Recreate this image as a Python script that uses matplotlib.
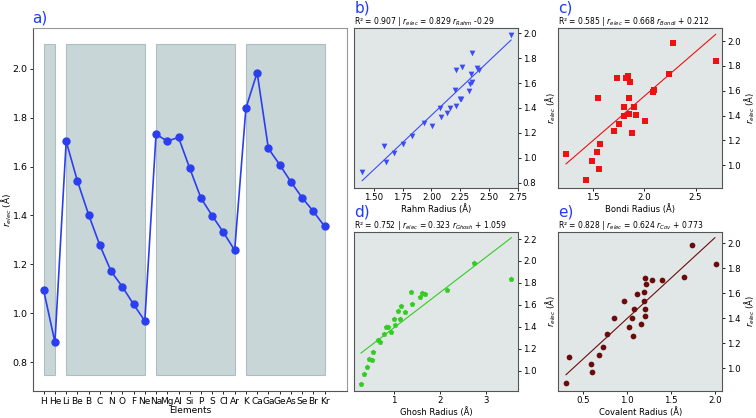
import numpy as np
import matplotlib
matplotlib.use("Agg")
import matplotlib.pyplot as plt
from matplotlib.patches import Rectangle

# elements and electronic radii (panel a)
elements = ["H", "He", "Li", "Be", "B", "C", "N", "O", "F", "Ne",
            "Na", "Mg", "Al", "Si", "P", "S", "Cl", "Ar",
            "K", "Ca", "Ga", "Ge", "As", "Se", "Br", "Kr"]
r_elec = [1.094, 0.882, 1.703, 1.541, 1.403, 1.278, 1.172, 1.109, 1.037, 0.969,
          1.732, 1.704, 1.719, 1.593, 1.471, 1.399, 1.331, 1.258,
          1.838, 1.984, 1.674, 1.608, 1.538, 1.473, 1.417, 1.356]
# shaded periods (first, last element index)
periods = [(0, 1), (2, 9), (10, 17), (18, 25)]

# other radii, same element order as above
rahm = [1.589, 1.400, 2.217, 2.206, 2.073, 1.932, 1.828, 1.750, 1.676, 1.607,
        2.263, 2.410, 2.399, 2.332, 2.246, 2.162, 2.085, 2.001,
        2.350, 2.692, 2.341, 2.350, 2.324, 2.260, 2.209, 2.139]
bondi = [1.233, 1.425, 1.731, 1.542, 1.914, 1.702, 1.562, 1.536, 1.487, 1.552,
         2.243, 1.819, 1.836, 2.086, 1.800, 1.800, 1.754, 1.875,
         2.699, 2.282, 1.862, 2.090, 1.845, 1.894, 1.845, 2.005]
ghosh = [0.531, 0.292, 1.679, 1.094, 0.827, 0.653, 0.545, 0.473, 0.415, 0.365,
         2.162, 1.621, 1.368, 1.152, 1.000, 0.884, 0.791, 0.711,
         3.556, 2.747, 1.570, 1.390, 1.253, 1.130, 1.036, 0.949]
covalent = [0.333, 0.303, 1.401, 0.963, 0.849, 0.770, 0.724, 0.675, 0.587, 0.595,
            1.645, 1.279, 1.206, 1.111, 1.073, 1.054, 1.020, 1.062,
            2.008, 1.742, 1.218, 1.196, 1.188, 1.199, 1.199, 1.161]

# fitted lines as drawn (end points)
rahm_fit_x, rahm_fit_y = [1.40, 2.69], [0.816, 1.946]
bondi_fit_x, bondi_fit_y = [1.233, 2.695], [1.011, 2.054]
ghosh_fit_x, ghosh_fit_y = [0.292, 3.556], [1.161, 2.212]
cov_fit_x, cov_fit_y = [0.303, 2.0], [0.949, 2.045]

titles = ["R² = 0.907 | $r_{elec}$ = 0.829 $r_{Rahm}$ -0.29",
          "R² = 0.585 | $r_{elec}$ = 0.668 $r_{Bondi}$ + 0.212",
          "R² = 0.752 | $r_{elec}$ = 0.323 $r_{Ghosh}$ + 1.059",
          "R² = 0.828 | $r_{elec}$ = 0.624 $r_{Cov}$ + 0.773"]

fig = plt.figure(figsize=(7.56, 4.18), dpi=100)
lab_color = "#1f3df5"
ylab = "$r_{elec}$ (Å)"

# ---- panel a
ax = fig.add_axes([0.0437, 0.0646, 0.4153, 0.8684])
x = np.arange(len(elements))
for a, b in periods:
    ax.add_patch(Rectangle((a, 0.75), b - a, 1.35, facecolor="#c9d6d7",
                           edgecolor="#aebfc4", lw=0.8, zorder=1))
ax.plot(x, r_elec, "-o", color="#2b3ff0", ms=5, lw=1.2, zorder=3)
ax.set_xlim(-0.95, 27.0)
ax.set_ylim(0.683, 2.166)
ax.set_xticks(x)
ax.set_xticklabels(elements, fontsize=6.5)
ax.set_yticks([0.8, 1.0, 1.2, 1.4, 1.6, 1.8, 2.0])
ax.tick_params(axis="y", labelsize=6.8)
ax.tick_params(length=2.5, width=0.6, pad=1.5)
ax.set_xlabel("Elements", fontsize=6.5, labelpad=0)
ax.set_ylabel(ylab, fontsize=6.5)
ax.yaxis.set_label_coords(-0.062, 0.5)
for s in ["left", "bottom"]:
    ax.spines[s].set_color("#555555")
for s in ["top", "right"]:
    ax.spines[s].set_color("#999999")
fig.text(0.043, 0.957, "a)", color=lab_color, fontsize=11, va="center")

# ---- scatter panels
panels = [
    ([0.4687, 0.5502, 0.2165, 0.3835], rahm, "v", "#3b4cf5", rahm_fit_x, rahm_fit_y,
     "Rahm Radius (Å)", (1.332, 2.75), (0.757, 2.045), [1.50, 1.75, 2.00, 2.25, 2.50, 2.75],
     [0.8, 1.0, 1.2, 1.4, 1.6, 1.8, 2.0], "%.2f", "b)"),
    ([0.7385, 0.5502, 0.2169, 0.3835], bondi, "s", "#ee1111", bondi_fit_x, bondi_fit_y,
     "Bondi Radius (Å)", (1.158, 2.76), (0.817, 2.108), [1.5, 2.0, 2.5],
     [1.0, 1.2, 1.4, 1.6, 1.8, 2.0], "%.1f", "c)"),
    ([0.4687, 0.0653, 0.2165, 0.3804], ghosh, "p", "#33cc22", ghosh_fit_x, ghosh_fit_y,
     "Ghosh Radius (Å)", (0.148, 3.70), (0.818, 2.267), [1, 2, 3],
     [1.0, 1.2, 1.4, 1.6, 1.8, 2.0, 2.2], "%d", "d)"),
    ([0.7385, 0.0653, 0.2169, 0.3804], covalent, "o", "#6b0c0c", cov_fit_x, cov_fit_y,
     "Covalent Radius (Å)", (0.215, 2.084), (0.821, 2.093), [0.5, 1.0, 1.5, 2.0],
     [1.0, 1.2, 1.4, 1.6, 1.8, 2.0], "%.1f", "e)"),
]

for i, (rect, xr, mk, col, fx, fy, xl, xlim, ylim, xt, yt, fmt, lab) in enumerate(panels):
    ax = fig.add_axes(rect)
    ax.set_facecolor("#e1e7e7")
    ax.scatter(xr, r_elec, marker=mk, color=col, s=17, zorder=3, linewidths=0)
    ax.plot(fx, fy, color=col, lw=0.8, zorder=2)
    ax.set_xlim(*xlim)
    ax.set_ylim(*ylim)
    ax.set_xticks(xt)
    ax.set_xticklabels([fmt % v for v in xt])
    ax.set_yticks(yt)
    ax.yaxis.tick_right()
    ax.yaxis.set_label_position("right")
    ax.tick_params(labelsize=6.2, length=2, width=0.6, pad=1.5)
    ax.set_xlabel(xl, fontsize=6, labelpad=1.5)
    ax.set_ylabel(ylab, fontsize=6)
    if i in (0, 2):
        ax.yaxis.set_label_coords(1.155, 0.5)
    else:
        ax.yaxis.set_label_coords(1.125, 0.5)
    ax.set_title(titles[i], fontsize=5.5, pad=3, loc="left", x=0.0)
    for s in ax.spines.values():
        s.set_color("#555555")
        s.set_linewidth(0.8)
    fig.text(rect[0], rect[1] + rect[3] + 0.048, lab, color=lab_color,
             fontsize=11, va="center")

fig.savefig("out.png", dpi=100)
